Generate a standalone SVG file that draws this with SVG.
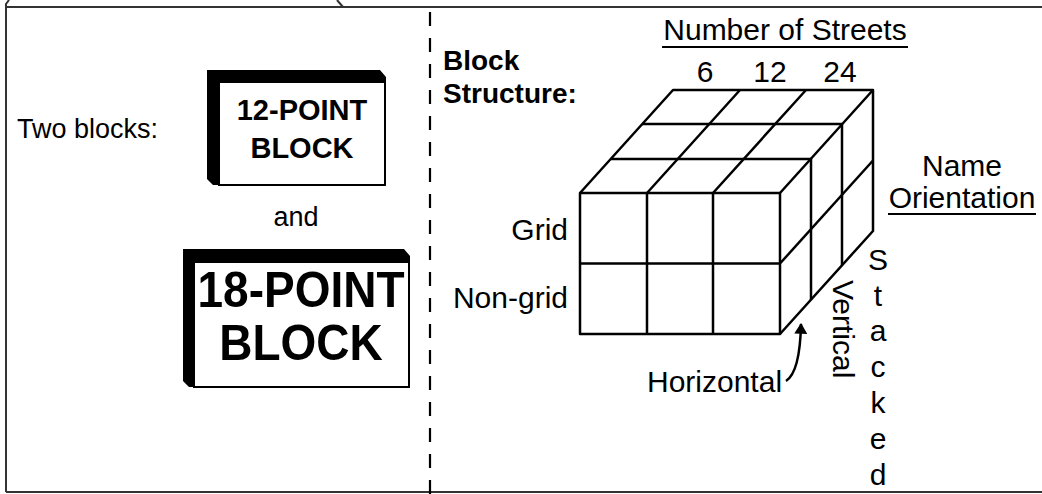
<svg xmlns="http://www.w3.org/2000/svg" width="1042" height="494" viewBox="0 0 1042 494">
<style>
text{font-family:"Liberation Sans",Arial,sans-serif;fill:#000}
.lab{font-size:30px}
.lft{font-size:27px}
.b{font-weight:bold}
.frame{fill:none;stroke:#333;stroke-width:2}
.cube{fill:none;stroke:#000;stroke-width:2.5;stroke-linejoin:round}
.ul{stroke:#000;stroke-width:2}
</style>
<defs>
<marker id="ah" viewBox="0 0 10 12" refX="9" refY="6" markerWidth="11" markerHeight="13" markerUnits="userSpaceOnUse" orient="auto">
<path d="M0,0 L10,6 L0,12 z" fill="#000"/>
</marker>
</defs>
<rect width="1042" height="494" fill="#fff"/>
<g id="frame">
<path class="frame" d="M6 492 L6 4 L9 0"/>
<line class="frame" x1="6" y1="7" x2="1042" y2="7"/>
<line class="frame" x1="337" y1="0" x2="343" y2="7"/>
<line class="frame" x1="6" y1="492" x2="1042" y2="492"/>
<line x1="430" y1="12" x2="430" y2="494" stroke="#000" stroke-width="2.2" stroke-dasharray="14 12"/>
</g>
<g id="two-blocks-label"><text class="lft" x="17" y="138">Two blocks:</text></g>
<g id="block12">
<path d="M207 70 L380 70 L386 77 L386 82 L219 82 L219 185 L213 185 L207 179 Z" fill="#000"/>
<rect x="219" y="82" width="166" height="103" fill="#fff" stroke="#000" stroke-width="2"/>
<text class="b" x="302" y="120" font-size="29" text-anchor="middle">12-POINT</text>
<text class="b" x="302" y="158" font-size="29" text-anchor="middle">BLOCK</text>
</g>
<g id="and-label"><text class="lft" x="296" y="226" text-anchor="middle">and</text></g>
<g id="block18">
<path d="M183 249 L404 249 L410 256 L410 262 L194 262 L194 387 L189 387 L183 381 Z" fill="#000"/>
<rect x="194" y="262" width="215" height="125" fill="#fff" stroke="#000" stroke-width="2"/>
<text class="b" font-size="46" text-anchor="middle" transform="translate(301,307) scale(1,1.1)">18-POINT</text>
<text class="b" font-size="46" text-anchor="middle" transform="translate(301,360) scale(1,1.1)">BLOCK</text>
</g>
<g id="block-structure">
<text class="b" x="443" y="70" font-size="28">Block</text>
<text class="b" x="443" y="103" font-size="28">Structure:</text>
</g>
<g id="streets">
<text class="lab" x="785" y="40" text-anchor="middle">Number of Streets</text>
<line class="ul" x1="662" y1="47" x2="908" y2="47"/>
<text class="lab" x="705" y="82" text-anchor="middle">6</text>
<text class="lab" x="770" y="82" text-anchor="middle">12</text>
<text class="lab" x="840" y="82" text-anchor="middle">24</text>
</g>
<g id="cube">
<rect class="cube" x="580" y="193" width="200" height="141"/>
<path class="cube" d="M580 263.5 H780 M647 193 V334 M713 193 V334"/>
<path class="cube" d="M580 193 L673 90 H873 V231 L780 334"/>
<path class="cube" d="M647 193 L740 90 M713 193 L806 90 M780 193 L873 90"/>
<path class="cube" d="M611 159 H811 V300 M642 124 H842 V265"/>
<path class="cube" d="M780 263.5 L873 160.5"/>
</g>
<g id="name-orientation">
<text class="lab" x="962" y="176" text-anchor="middle">Name</text>
<text class="lab" x="962" y="208" text-anchor="middle">Orientation</text>
<line class="ul" x1="888" y1="214" x2="1036" y2="214"/>
</g>
<g id="rows">
<text class="lab" x="568" y="240" text-anchor="end">Grid</text>
<text class="lab" x="568" y="308" text-anchor="end">Non-grid</text>
</g>
<g id="horizontal"><text class="lab" x="647" y="392">Horizontal</text></g>
<g id="vertical"><text class="lab" transform="translate(833,280) rotate(90)">Vertical</text></g>
<g id="stacked">
<text class="lab" x="878" y="270" text-anchor="middle">S</text>
<text class="lab" x="878" y="306" text-anchor="middle">t</text>
<text class="lab" x="878" y="341" text-anchor="middle">a</text>
<text class="lab" x="878" y="377" text-anchor="middle">c</text>
<text class="lab" x="878" y="413" text-anchor="middle">k</text>
<text class="lab" x="878" y="449" text-anchor="middle">e</text>
<text class="lab" x="878" y="485" text-anchor="middle">d</text>
</g>
<g id="connectors">
<path d="M786 381 Q800 372 801 324" fill="none" stroke="#000" stroke-width="2.5" marker-end="url(#ah)"/>
</g>
</svg>
